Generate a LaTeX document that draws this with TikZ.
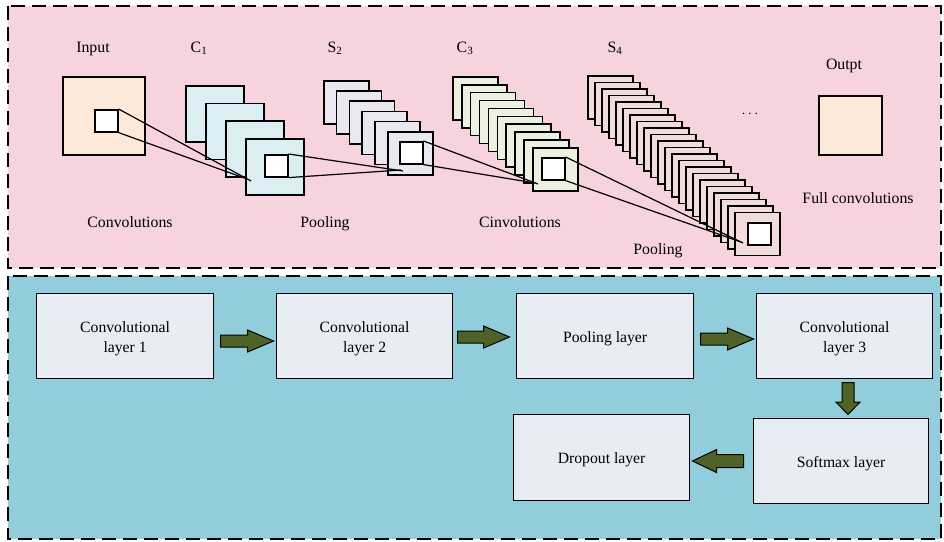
\documentclass[tikz,border=0pt]{standalone}
\usepackage{fontspec}
\setmainfont{Liberation Serif}
\usetikzlibrary{shapes.arrows,calc}

\definecolor{panelpink}{RGB}{247,211,222}
\definecolor{panelblue}{RGB}{146,205,220}
\definecolor{boxfill}{RGB}{232,237,244}
\definecolor{arrowgreen}{RGB}{79,98,40}
\definecolor{peach}{RGB}{253,233,217}
\definecolor{mapblue}{RGB}{218,238,243}
\definecolor{maplav}{RGB}{234,231,240}
\definecolor{mapgreen}{RGB}{235,241,222}
\definecolor{maprose}{RGB}{242,220,219}

\tikzset{
  panel/.style={draw=black, line width=1.6pt, dash pattern=on 14pt off 7pt},
  lbl/.style={font=\fontsize{15.8}{20}\selectfont, inner sep=0pt, anchor=base},
  fmap/.style={draw=black, line width=1.6pt, anchor=north west, inner sep=0pt},
  kernel/.style={draw=black, line width=1.6pt, fill=white, anchor=north west, inner sep=0pt,
                 minimum width=23pt, minimum height=22pt},
  link/.style={draw=black, line width=1.2pt},
  layerbox/.style={draw=black, line width=1.2pt, fill=boxfill, anchor=north west, inner sep=0pt},
  boxtext/.style={font=\fontsize{15.7}{20}\selectfont, align=center, inner sep=0pt, yshift=-2.5pt},
  blockarrow/.style={single arrow, draw=black, line width=1pt, fill=arrowgreen,
                     inner sep=5.5pt, single arrow head extend=5pt,
                     single arrow tip angle=46, anchor=tail},
}

\begin{document}
\begin{tikzpicture}[x=1pt, y=-1pt]
\useasboundingbox (0,0) rectangle (944,541);
\fill[white] (0,0) rectangle (944,541);

% panels
\path[panel, fill=panelpink] (8,6) rectangle (941,268);
\path[panel, fill=panelblue] (8,276) rectangle (941,539);

% input map
\node[lbl] (inputlbl) at (93,52) {Input};
\node[fmap, fill=peach, minimum width=82pt, minimum height=78pt] (input) at (62,76) {};
\node[kernel] (k0) at (94,109) {};

% C1 feature maps
\node[lbl] (c1lbl) at (199,52) {C\textsubscript{1}};
\foreach \i in {0,...,3}
  \node[fmap, fill=mapblue, minimum width=58pt, minimum height=56pt] (c1-\i) at (185+20*\i, 85+17.7*\i) {};
\node[kernel] (k1) at (264,154) {};

% S2 feature maps
\node[lbl] (s2lbl) at (335,52) {S\textsubscript{2}};
\foreach \i in {0,...,5}
  \node[fmap, fill=maplav, minimum width=45pt, minimum height=43pt] (s2-\i) at (323+12.8*\i, 80+10.2*\i) {};
\node[kernel] (k2) at (399,141) {};

% C3 feature maps
\node[lbl] (c3lbl) at (465,52) {C\textsubscript{3}};
\foreach \i in {0,...,9}
  \node[fmap, fill=mapgreen, minimum width=45pt, minimum height=43pt] (c3-\i) at (452+8.9*\i, 76+7.9*\i) {};
\node[kernel] (k3) at (541,157) {};

% S4 feature maps
\node[lbl] (s4lbl) at (615,52) {S\textsubscript{4}};
\foreach \i in {0,...,21}
  \node[fmap, fill=maprose, minimum width=45pt, minimum height=43pt] (s4-\i) at (587+7*\i, 75+6.5*\i) {};
\node[kernel] (k4) at (747,222) {};

% receptive field lines
\coordinate (t1) at (251,181);
\coordinate (t1b) at (247,179);
\coordinate (t2) at (403,171);
\coordinate (t2b) at (401,170);
\coordinate (t3) at (538,184);
\coordinate (t3b) at (535,183);
\coordinate (t4) at (743,243);
\coordinate (t4b) at (741,242);
\draw[link] (k0.north east) -- (t1);
\draw[link] (k0.south east) -- (t1b);
\draw[link] (k1.north east) -- (t2);
\draw[link] (k1.south east) -- (t2b);
\draw[link] (k2.north east) -- (t3);
\draw[link] (k2.south east) -- (t3b);
\draw[link] (k3.north east) -- (t4);
\draw[link] (k3.south east) -- (t4b);

% output
\node[font=\fontsize{15.8}{20}\selectfont, inner sep=0pt] (dots) at (750,114) {$\cdots$};
\node[lbl] (outlbl) at (844,69) {Outpt};
\node[fmap, fill=peach, minimum width=63pt, minimum height=59pt] (output) at (818,95) {};

% stage labels
\node[lbl] (st1) at (130,227) {Convolutions};
\node[lbl] (st2) at (325,227) {Pooling};
\node[lbl] (st3) at (520,227) {Cinvolutions};
\node[lbl] (st4) at (658,254) {Pooling};
\node[lbl] (st5) at (858,203) {Full convolutions};

% layer pipeline
\node[layerbox, minimum width=177pt, minimum height=85pt] (b1) at (36,293) {};
\node[layerbox, minimum width=176pt, minimum height=85pt] (b2) at (276,293) {};
\node[layerbox, minimum width=177pt, minimum height=85pt] (b3) at (516,293) {};
\node[layerbox, minimum width=176pt, minimum height=85pt] (b4) at (756,293) {};
\node[layerbox, minimum width=175pt, minimum height=85pt] (b5) at (753,418) {};
\node[layerbox, minimum width=176pt, minimum height=86pt] (b6) at (513,414) {};
\node[boxtext] (b1t) at (b1.center) {Convolutional\\layer 1};
\node[boxtext] (b2t) at (b2.center) {Convolutional\\layer 2};
\node[boxtext] (b3t) at (b3.center) {Pooling layer};
\node[boxtext] (b4t) at (b4.center) {Convolutional\\layer 3};
\node[boxtext] (b5t) at (b5.center) {Softmax layer};
\node[boxtext] (b6t) at (b6.center) {Dropout layer};

% flow arrows between the layers
\node[blockarrow, minimum height=53pt] (a1) at (220,341) {};
\node[blockarrow, minimum height=52pt] (a2) at (457,337) {};
\node[blockarrow, minimum height=53pt] (a3) at (700,339) {};
\node[blockarrow, minimum height=32pt, single arrow head extend=6pt,
      single arrow tip angle=88, shape border rotate=270] (a4) at (848,382) {};
\node[blockarrow, minimum height=51pt, inner sep=6pt, single arrow head extend=5pt,
      single arrow tip angle=51, shape border rotate=180] (a5) at (744,461) {};
\end{tikzpicture}
\end{document}
